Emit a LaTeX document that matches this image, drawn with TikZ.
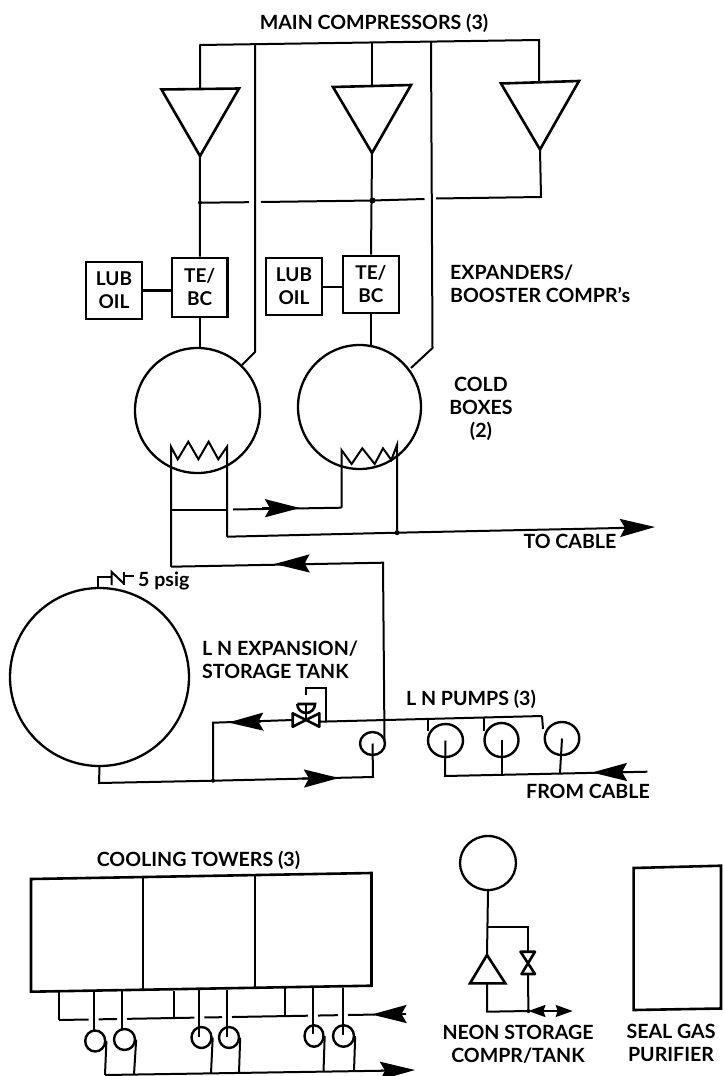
\documentclass[tikz,border=0pt]{standalone}
\usepackage{fontspec}
\setmainfont{Lato}
\usetikzlibrary{arrows.meta,positioning,calc,shapes.geometric}
\tikzset{
  pipe/.style={line width=2pt, line join=miter},
  heavy/.style={line width=2.6pt, line join=miter},
  flowtip/.style={-{Stealth[length=35pt, width=18pt, inset=5pt]}, line width=2pt},
  smalltip/.style={-{Stealth[length=17pt, width=12pt, inset=2pt]}, line width=2pt},
  tag/.style={align=center, inner sep=0pt, font=\bfseries\fontsize{19.6}{23}\selectfont},
  taglft/.style={tag, align=left, anchor=west},
  unitbox/.style={draw, heavy, align=center, inner sep=0pt, font=\bfseries\fontsize{19}{23}\selectfont},
  vessel/.style={draw, line width=2.3pt, ellipse, inner sep=0pt},
  pump/.style={vessel, line width=2.4pt}
}
\begin{document}
\begin{tikzpicture}[x=1pt,y=-1pt]
\useasboundingbox (0,0) rectangle (723,1076);
% equipment
\node[unitbox, minimum width=55.5pt, minimum height=59pt] (teA) at (199.75,287.5) {TE/\\BC};
\node[unitbox, minimum width=56pt, minimum height=57pt] (teB) at (371,284.5) {TE/\\BC};
\node[unitbox, minimum width=56pt, minimum height=57pt] (lubA) at (114,290.5) {LUB\\OIL};
\node[unitbox, minimum width=56pt, minimum height=57pt] (lubB) at (294,286.5) {LUB\\OIL};
\node[vessel, minimum width=125pt, minimum height=125pt] (coldA) at (197.5,410.5) {};
\node[vessel, minimum width=123pt, minimum height=124pt] (coldB) at (359.5,407) {};
\node[vessel, minimum width=179pt, minimum height=178pt] (tank) at (99.5,677) {};
\node[vessel, minimum width=56pt, minimum height=54pt] (neon) at (488,863) {};
\foreach \name/\x/\y/\bw/\bh in {pumpZ/372.5/743.5/25/23, pumpA/445.5/740.5/35/33, pumpB/501.5/740/34/34, pumpC/562/738.5/34.5/33,
    ctA/95.2/1041/20/21, ctB/124.5/1039.5/21/21, ctC/201.5/1037.5/20/21, ctD/229/1037.5/20/21, ctE/314/1036/19/21.5, ctF/343.5/1036/21/21.5}
  \node[pump, minimum width=\bw pt, minimum height=\bh pt] (\name) at (\x,\y) {};

% main compressors
\coordinate (hdrL) at (199.5,45);
\coordinate (hdrR) at (539,40);
\coordinate (expA) at (255,44);
\coordinate (expB) at (431,42);
\coordinate (midB) at (372,42.5);
\draw[heavy] (161.5,89.5) coordinate (mcA) -- (239,88.5) -- (200,156) coordinate (mcAo) -- cycle;
\draw[heavy] (333,87) -- (411,85) -- (372,153) coordinate (mcBo) -- cycle;
\draw[heavy] (501,83.5) -- (579,81) -- (540,149.5) coordinate (mcCo) -- cycle;
\draw[pipe] (200,89) |- (hdrL) -- (hdrR) -- (539,82);
\draw[pipe] (midB) -- (372,86);
\coordinate (lowL) at (200,202.7);
\coordinate (lowM) at (372.5,200.5);
\coordinate (lowR) at (541,197);
\draw[pipe] (mcCo) -- (lowR) -- (436,198.5);
\draw[pipe] (424.5,199) -- (lowM) -- (261,202);
\draw[pipe] (249,202.2) -- (lowL);
\fill (lowM) circle (3pt);
\fill (lowL) circle (2pt);
\draw[pipe] (mcAo) -- (teA.north);
\draw[pipe] (mcBo) -- (teB.north);
\draw[heavy] (lubA.east) -- (teA.west |- lubA.east);
\draw[pipe] (lubB.east) -- (teB.west |- lubB.east);
\draw[pipe] (teA.south) -- (teA.south |- coldA.north);
\draw[pipe] (teB.south) -- ++(0,33);
\draw[pipe] (expA) -- (255,352) -- (242,365);
\draw[pipe] (expB) -- (432.5,348) -- (411,368);

% cold box heat exchangers
\draw[pipe] (171,566.7) coordinate (retL) -- (171,446.7) -- (177.7,459.3) -- (188.3,441.7) -- (198.4,459.3) -- (208.6,441.7) -- (218.3,459.3) -- (227,446.7) -- (227,536.7) coordinate (outL);
\draw[pipe] (341.5,507.7) coordinate (xferR) -- (341.5,450) -- (351.6,464) -- (362.3,448.3) -- (374.7,464) -- (383,448.3) -- (391.3,460) -- (397,445) -- (397,532.7) coordinate (outJ);
\coordinate (xferL) at (171,510);
\draw[pipe] (xferL) -- (226,510);
\draw[pipe] (233,509.5) -- (xferR);
\draw[flowtip] (262,508.2) -- (300,508);
\fill (outJ) circle (2.5pt);
\coordinate (cableOut) at (655,527);
\draw[pipe] (outL) -- (outJ) -- (620,528);
\draw[flowtip] (618,528) -- (cableOut);
% return line
\coordinate (retR) at (383,562.7);
\draw[pipe] (retL) -- (retR) -- (384.5,740);
\draw[flowtip] (306,563.5) -- (274.6,564);

% tank and relief
\draw[pipe] (97.7,588) -- (97.7,576.7) -- (111.7,576.7);
\draw[pipe] (111.7,585) -- (111.7,572) -- (124.3,584);
\draw[pipe] (124.3,585) -- (124.3,572);
\draw[pipe] (124.3,576) -- (134.3,576);
\coordinate (tankJ) at (213,780.7);
\coordinate (feedR) at (373,777);
\draw[pipe] (tank.south) -- (99,783) -- (tankJ) -- (feedR) -- (pumpZ.center);
\draw[flowtip] (302,778.5) -- (339,778);
\fill (tankJ) circle (2pt);

% control valve branch
\coordinate (vlvL) at (292.7,720);
\coordinate (vlvR) at (319.3,720);
\coordinate (vlvC) at (306,720);
\coordinate (hdrP) at (542,716);
\draw[heavy, line join=round] (292.7,713.3) -- (319.3,726.7) -- (319.3,713.3) -- (292.7,726.7) -- cycle;
\draw[pipe] (vlvC) -- (306,704);
\draw[heavy] (297.3,704) -- (315,704) arc[start angle=0, end angle=180, x radius=8.85pt, y radius=-9pt];
\draw[pipe] (306,695) -- (306,688) -- (326,688) -- (326,721.5);
\draw[pipe] (vlvL) -- (213,722.7) -- (tankJ);
\draw[flowtip] (261,721.7) -- (228.4,722.5);
\draw[pipe] (vlvR) -- (319.3,721.7) -- (hdrP);
\draw[pipe] (428,720) -- (428,731);
\draw[pipe] (484,718) -- (484,731);
\draw[pipe] (hdrP) -- (543,729);

% cable inlet
\coordinate (cableIn) at (647.4,771.7);
\coordinate (inL) at (445,776);
\draw[pipe] (pumpA.center) -- (inL) -- (cableIn);
\draw[pipe] (pumpB.center) -- (501.5,774.5);
\draw[pipe] (pumpC.center) -- (560,773);
\draw[flowtip] (627,772) -- (592,772.5);

% cooling towers
\coordinate (manL) at (59,1020);
\coordinate (manR) at (406,1014);
\foreach \a/\b in {59/88.7, 98.7/117, 127/194.4, 204.4/222, 232/308, 318/338, 348/375}
  \draw[pipe] ($(manL)!{(\a-59)/347}!(manR)$) -- ($(manL)!{(\b-59)/347}!(manR)$);
\draw[flowtip] (manR) -- (371.5,1014.5);
\draw[pipe] (manL) -- (59,991.7);
\draw[pipe] (174,1019) -- (174,990.7);
\draw[pipe] (285,1017) -- (285,988);
\draw[pipe] (93.7,991.7) -- (93.7,1030.7);
\draw[pipe] (122,990.7) -- (122,1029);
\draw[pipe] (199.4,990) -- (199.4,1036.7);
\draw[pipe] (227,990) -- (227,1036.7);
\draw[pipe] (313,988.3) -- (313,1034);
\draw[pipe] (343,988) -- (343,1035);
\coordinate (ctOutL) at (105,1075);
\coordinate (ctOutR) at (415,1070);
\draw[pipe] (ctOutL) -- (383,1070.7);
\draw[flowtip] (381,1070.7) -- (ctOutR);
\draw[pipe] (ctA.east) -- (105,1075);
\draw[pipe] (ctB.east) -- (134,1074.5);
\draw[pipe] (ctC.east) -- (211,1073.4);
\draw[pipe] (ctD.east) -- (239,1073);
\draw[pipe] (ctE.east) -- (323.5,1071.8);
\draw[pipe] (ctF.east) -- (354,1071.2);
\draw[heavy] (31,879) -- (371.5,873) -- (371.5,985.7) -- (31,991.7) -- cycle;
\draw[pipe] (143,877) -- (143,989);
\draw[pipe] (255,875) -- (255,987);

% neon storage
\coordinate (neoT) at (487,955);
\coordinate (neoJ) at (487,926.7);
\coordinate (neoB) at (487,1011.7);
\coordinate (neoV) at (528.4,1011);
\draw[pipe] (neon.south) -- (neoT);
\draw[heavy] (neoT) -- (505.3,983.3) -- (470,983.3) -- cycle;
\draw[pipe] (487,983.3) -- (neoB) -- (neoV);
\draw[pipe] (neoJ) -| (528,951.7);
\draw[heavy, line join=round] (520.5,951.7) -- (535,951.7) -- (521.5,974) -- (535,974) -- cycle;
\draw[pipe] (528,974) -- (neoV);
\draw[smalltip] (546,1011) -- (528.4,1011);
\draw[pipe] (546,1011) -- (556,1011);
\draw[smalltip] (555,1011) -- (572.7,1011);
\fill (neoV) circle (2pt);

% seal gas purifier
\draw[heavy] (633.6,868) -- (721,865.7) -- (721,1008.5) -- (633.6,1010) -- cycle;

% labels
\node[tag] (lblMain) at (374,23) {MAIN COMPRESSORS (3)};
\node[taglft] (lblExp) at (450,283.5) {EXPANDERS/\\BOOSTER COMPR's};
\node[tag] (lblCold) at (481,409) {COLD\\BOXES\\(2)};
\node[tag] (lblOut) at (570,541.7) {TO CABLE};
\node[tag, anchor=west] (lblPsig) at (138,581) {5 psig};
\node[taglft] (lblTank) at (202,660) {L N EXPANSION/\\STORAGE TANK};
\node[tag] (lblPumps) at (471,699) {L N PUMPS (3)};
\node[tag] (lblIn) at (588,791.7) {FROM CABLE};
\node[tag] (lblTower) at (198.5,860) {COOLING TOWERS (3)};
\node[tag] (lblNeon) at (518,1044) {NEON STORAGE\\COMPR/TANK};
\node[tag] (lblSeal) at (671,1043) {SEAL GAS\\PURIFIER};
\end{tikzpicture}
\end{document}
